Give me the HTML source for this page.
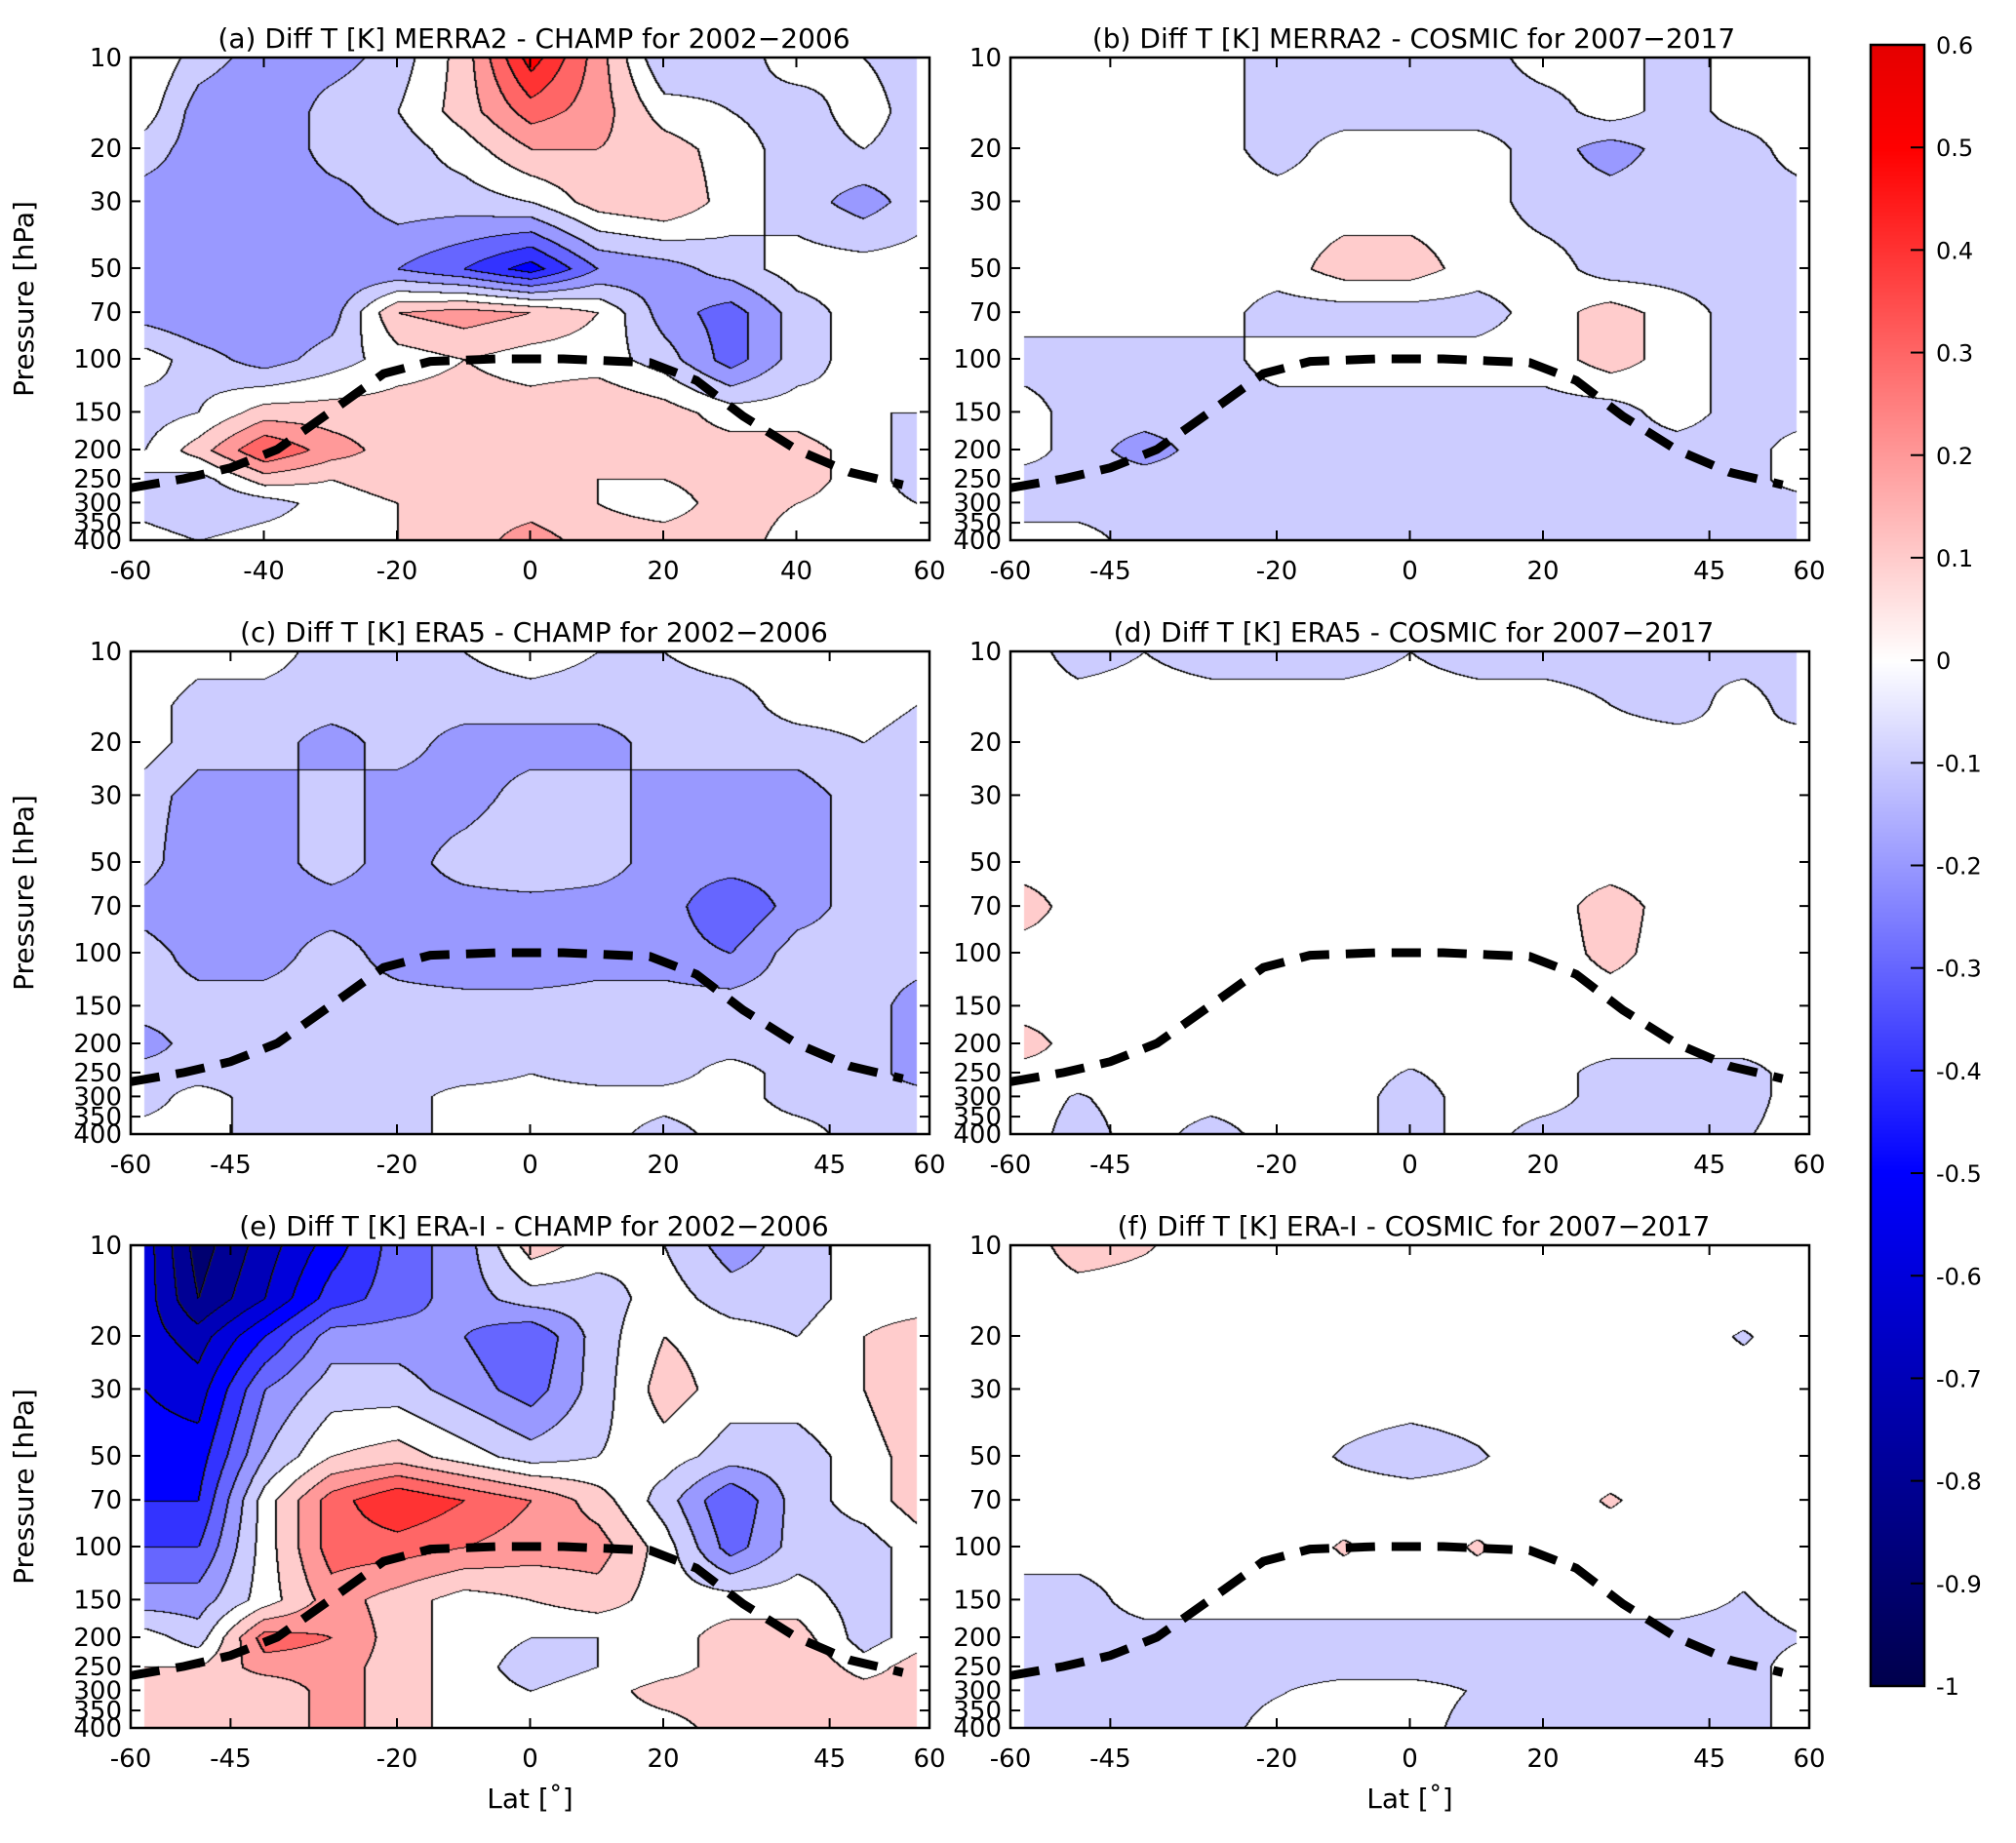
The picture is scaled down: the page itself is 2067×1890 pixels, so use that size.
<!DOCTYPE html>
<html><head><meta charset="utf-8">
<style>
html,body{margin:0;padding:0;background:#fff;}
#wrap{position:relative;width:2067px;height:1890px;overflow:hidden;font-family:"DejaVu Sans","Liberation Sans",sans-serif;}
canvas{position:absolute;}
svg{position:absolute;left:0;top:0;}
</style></head>
<body>
<div id="wrap">
<canvas id="cv0"></canvas>
<canvas id="cv1"></canvas>
<canvas id="cv2"></canvas>
<canvas id="cv3"></canvas>
<canvas id="cv4"></canvas>
<canvas id="cv5"></canvas>
<canvas id="cbar"></canvas>
<svg id="ov" width="2067" height="1890" xmlns="http://www.w3.org/2000/svg"></svg>
</div>
<script>
// ---- data ----
const lats = [-58,-50,-40,-30,-20,-10,0,10,20,30,40,50,58];
const pressures = [10,15,20,30,50,70,100,150,200,250,300,400];
const yTicks = [10,20,30,50,70,100,150,200,250,300,350,400];
const xTicksA = [-60,-40,-20,0,20,40,60];
const xTicksB = [-60,-45,-20,0,20,45,60];
const cbTicks = [0.6,0.5,0.4,0.3,0.2,0.1,0,-0.1,-0.2,-0.3,-0.4,-0.5,-0.6,-0.7,-0.8,-0.9,-1];
const tropLat = [-60,-52,-45,-38,-30,-22,-15,-5,5,18,25,32,40,48,56];
const tropP =   [268,250,230,200,150,112,102,100,100,103,118,155,200,238,262];
const titles = ["(a) Diff T [K] MERRA2 - CHAMP for 2002\u22122006","(b) Diff T [K] MERRA2 - COSMIC for 2007\u22122017",
"(c) Diff T [K] ERA5 - CHAMP for 2002\u22122006","(d) Diff T [K] ERA5 - COSMIC for 2007\u22122017",
"(e) Diff T [K] ERA-I - CHAMP for 2002\u22122006","(f) Diff T [K] ERA-I - COSMIC for 2007\u22122017"];
const fieldA = [
[0.05,-0.1,-0.2,-0.2,-0.1,0.1,0.5,0.2,-0.15,-0.1,0,-0.05,-0.1],
[0,-0.2,-0.25,-0.1,-0.05,0.1,0.3,0.2,0,-0.05,-0.1,0,-0.1],
[-0.1,-0.2,-0.25,-0.1,-0.1,0,0.15,0.15,0.1,0,-0.1,-0.05,-0.1],
[-0.2,-0.2,-0.2,-0.2,-0.1,-0.1,-0.05,0.1,0.15,0,-0.1,-0.2,-0.1],
[-0.2,-0.25,-0.25,-0.25,-0.25,-0.35,-0.5,-0.25,-0.2,-0.1,0,0,0],
[-0.2,-0.25,-0.25,-0.2,0.15,0.2,0.15,0.05,-0.2,-0.3,-0.1,0,0],
[0,-0.1,-0.2,-0.1,0,0.05,0,0,-0.1,-0.3,-0.1,0,-0.05],
[-0.1,-0.05,0.1,0.1,0.1,0.1,0.1,0.15,0.1,0,0,-0.05,-0.05],
[-0.05,0.1,0.35,0.2,0.1,0.1,0.1,0.1,0.1,0.1,0.1,0,-0.1],
[-0.05,-0.1,0.1,0.05,0.1,0.1,0.1,0.05,0.05,0.1,0.1,0,-0.1],
[-0.1,-0.15,-0.1,0,0.05,0.1,0.1,0.05,0,0.1,0.05,0,-0.05],
[0,-0.05,0,0,0.05,0.1,0.2,0.1,0.1,0.1,0,0,0]];
const fieldB = [
[0,0,0,0,-0.1,-0.1,-0.1,-0.1,0,0,-0.1,0,0],
[0,0,0,0,-0.1,-0.1,-0.1,-0.1,-0.1,0,-0.1,0,0],
[0,0,0,0,-0.1,0,0,0,-0.1,-0.2,-0.1,-0.1,0],
[0,0,0,0,0,0,0,0,-0.1,-0.1,-0.1,-0.1,-0.1],
[0,0,0,0,0,0.1,0.1,0,0,-0.1,-0.1,-0.1,-0.1],
[0,0,0,0,-0.1,-0.1,-0.1,-0.1,0,0.1,0,-0.1,-0.1],
[-0.1,-0.1,-0.1,-0.1,0,0,0,0,0,0.1,0,-0.1,-0.1],
[0,-0.1,-0.1,-0.1,-0.1,-0.1,-0.1,-0.1,-0.1,-0.1,0,-0.1,-0.1],
[0,-0.1,-0.2,-0.1,-0.1,-0.1,-0.1,-0.1,-0.1,-0.1,-0.1,-0.1,0],
[-0.1,-0.1,-0.1,-0.1,-0.1,-0.1,-0.1,-0.1,-0.1,-0.1,-0.1,-0.1,0],
[-0.1,-0.1,-0.1,-0.1,-0.1,-0.1,-0.1,-0.1,-0.1,-0.1,-0.1,-0.1,-0.1],
[0,0,-0.1,-0.1,-0.1,-0.1,-0.1,-0.1,-0.1,-0.1,-0.1,-0.1,-0.1]];
const fieldC = [
[0.05,0,0,-0.1,-0.1,-0.05,0,-0.05,-0.05,0,0,0.05,0],
[0,-0.1,-0.1,-0.1,-0.1,-0.1,-0.1,-0.1,-0.1,-0.1,0,0,-0.05],
[0,-0.1,-0.1,-0.2,-0.1,-0.2,-0.2,-0.2,-0.1,-0.1,-0.1,-0.05,-0.1],
[-0.1,-0.2,-0.2,-0.1,-0.2,-0.2,-0.1,-0.1,-0.2,-0.2,-0.2,-0.1,-0.1],
[-0.1,-0.25,-0.2,-0.1,-0.2,-0.1,-0.05,-0.1,-0.2,-0.2,-0.2,-0.1,-0.1],
[-0.2,-0.25,-0.2,-0.2,-0.2,-0.2,-0.2,-0.2,-0.2,-0.35,-0.2,-0.1,-0.1],
[-0.1,-0.2,-0.2,-0.1,-0.2,-0.25,-0.25,-0.2,-0.2,-0.25,-0.1,-0.1,-0.1],
[-0.1,-0.1,-0.1,-0.1,-0.1,-0.1,-0.1,-0.1,-0.1,-0.1,-0.1,-0.1,-0.2],
[-0.2,-0.1,-0.1,-0.1,-0.1,-0.1,-0.1,-0.1,-0.1,-0.1,-0.1,-0.1,-0.2],
[-0.1,-0.1,-0.1,-0.1,-0.1,-0.1,-0.05,-0.1,-0.1,0,-0.1,-0.1,-0.2],
[-0.1,0,-0.1,-0.05,-0.1,0,0,0,0,0,-0.1,-0.1,-0.1],
[0,0,-0.1,-0.1,-0.1,0,0,0,-0.1,0,0,-0.1,-0.1]];
const fieldD = [
[0,-0.1,-0.05,-0.1,-0.1,-0.1,-0.05,-0.1,-0.1,-0.1,-0.05,-0.1,-0.1],
[0,0,0,0,0,0,0,0,0,-0.05,-0.1,0,-0.1],
[0,0,0,0,0,0,0,0,0,0,0,-0.05,0],
[0,0,0,0,0,0,0,0,0,0,0,0,0],
[0,0,0,0,0,0,0,0,0,0,0,0,0],
[0.1,0,0,0,0,0,0,0,0,0.1,0,0,0],
[0,0,0,0,0,0,0,0,0,0.08,0,0,0],
[0,0,0,0,0,0,0,0,0,0,0,0,0],
[0.1,0,0,0,0,0,0,0,0,0,0,0,0],
[0,0,0,0,0,0,-0.06,0,0,-0.1,-0.1,-0.1,0],
[0,-0.06,0,0,0,0,-0.1,0,0,-0.1,-0.1,-0.1,0],
[0,-0.1,0,-0.1,0,0,-0.1,0,-0.1,-0.1,-0.1,-0.06,0]];
const fieldE = [
[-0.6,-0.9,-0.7,-0.5,-0.3,-0.2,0.1,0,-0.05,-0.2,-0.1,0,0],
[-0.6,-0.85,-0.65,-0.4,-0.3,-0.2,-0.1,-0.1,0,-0.1,-0.1,0,0],
[-0.6,-0.7,-0.45,-0.2,-0.2,-0.25,-0.35,-0.1,0.05,0,-0.05,0.05,0.1],
[-0.55,-0.6,-0.25,-0.1,-0.1,-0.2,-0.3,-0.1,0.1,0,0,0.05,0.15],
[-0.5,-0.5,-0.15,0.05,0.1,0,-0.1,-0.05,0,-0.1,-0.1,0,0.1],
[-0.45,-0.45,0,0.3,0.45,0.35,0.25,0.1,-0.1,-0.35,-0.1,0,0.1],
[-0.35,-0.35,0,0.3,0.3,0.25,0.2,0.2,0,-0.3,-0.1,-0.1,0],
[-0.2,-0.2,0,0.2,0.1,0,0.05,0.1,0,0,0,-0.1,0],
[0,-0.1,0.3,0.25,0.1,0,-0.05,-0.05,0,0.1,0.1,-0.1,0],
[0.05,0.05,0.2,0.2,0.1,0,-0.1,-0.05,0,0.1,0.15,0,0.1],
[0.1,0.1,0.05,0.2,0.1,0,-0.05,0,0.1,0.1,0.15,0.1,0.1],
[0.1,0.1,0.05,0.2,0.1,0,-0.05,0,0,0.1,0.15,0.1,0.1]];
const fieldF = [
[0,0.1,0.06,0,0,0,0,0,0,0,0,0,0],
[0,0,0,0,0,0,0,0,0,0,0,0,0],
[0,0,0,0,0,0,0,0,0,0,0,-0.06,0],
[0,0,0,0,0,0,0,0,0,0,0,0,0],
[0,0,0,0,0,-0.06,-0.1,-0.06,0,0,0,0,0],
[0,0,0,0,0,0,0,0,0,0.06,0,0,0],
[0,0,0,0,0,0.06,0,0.06,0,0,0,0,0],
[-0.1,-0.1,0,0,0,0,0,0,0,0,0,-0.06,0],
[-0.1,-0.1,-0.1,-0.1,-0.1,-0.1,-0.1,-0.1,-0.1,-0.1,-0.1,-0.1,-0.06],
[-0.1,-0.1,-0.1,-0.1,-0.1,-0.1,-0.1,-0.1,-0.1,-0.1,-0.1,-0.1,0],
[-0.1,-0.1,-0.06,-0.1,-0.06,0,0,-0.06,-0.1,-0.1,-0.1,-0.1,0],
[-0.1,-0.1,-0.1,-0.1,0,0,0,-0.1,-0.1,-0.1,-0.1,-0.1,0]];
const fields = [fieldA,fieldB,fieldC,fieldD,fieldE,fieldF];

// ---- layout ----
const colX = [134,1036], W = 819, H = 495, rowY = [59,668,1277];
const panels = [];
for (let r=0;r<3;r++) for (let c=0;c<2;c++) panels.push({x:colX[c],y:rowY[r]});
const NS="http://www.w3.org/2000/svg";
const ov=document.getElementById('ov');
function mk(tag,attrs,parent){const e=document.createElementNS(NS,tag);for(const k in attrs)e.setAttribute(k,attrs[k]);(parent||ov).appendChild(e);return e;}
const lp0=Math.log(10), lp1=Math.log(400);
function xS(lat){return (lat+60)/120*W;}
function yS(p){return (Math.log(p)-lp0)/(lp1-lp0)*H;}
function seismic(v){
  let t=(v+1)/2; t=Math.max(0,Math.min(1,t));
  const st=[[0,0,0,0.3],[0.25,0,0,1],[0.5,1,1,1],[0.75,1,0,0],[1,0.5,0,0]];
  for(let i=0;i<4;i++){const a=st[i],b=st[i+1];if(t<=b[0]){const f=(t-a[0])/(b[0]-a[0]);
    return [255*(a[1]+f*(b[1]-a[1])),255*(a[2]+f*(b[2]-a[2])),255*(a[3]+f*(b[3]-a[3]))];}}
  return [128,0,0];
}
const latPx = lats.map(xS), presPx = pressures.map(yS);
function interp(F,px,py){
  let i=0; while(i<latPx.length-2 && px>latPx[i+1]) i++;
  let j=0; while(j<presPx.length-2 && py>presPx[j+1]) j++;
  const fx=Math.max(0,Math.min(1,(px-latPx[i])/(latPx[i+1]-latPx[i])));
  const fy=Math.max(0,Math.min(1,(py-presPx[j])/(presPx[j+1]-presPx[j])));
  const a=F[j][i],b=F[j][i+1],c=F[j+1][i],d=F[j+1][i+1];
  return (a*(1-fx)+b*fx)*(1-fy)+(c*(1-fx)+d*fx)*fy;
}
panels.forEach((P,k)=>{
  const cv=document.getElementById('cv'+k);
  cv.width=W;cv.height=H;cv.style.left=P.x+'px';cv.style.top=P.y+'px';
  const ctx=cv.getContext('2d');const img=ctx.createImageData(W,H);
  const band=new Int16Array(W*H);
  const x0=latPx[0], x1=latPx[latPx.length-1];
  for(let y=0;y<H;y++)for(let x=0;x<W;x++){
    let b=-999;
    if(x>=x0&&x<=x1){b=Math.floor(interp(fields[k],x,y)*10+0.5+1e-6);}
    band[y*W+x]=b;
  }
  for(let y=0;y<H;y++)for(let x=0;x<W;x++){
    const i=y*W+x,b=band[i];
    let col=b===-999?[255,255,255]:seismic(b/10);
    if(b!==-999){
      const l=x>0?band[i-1]:b,u=y>0?band[i-W]:b;
      if((l!==b&&l!==-999)||(u!==b&&u!==-999))col=[0,0,0];
      else if(x>1&&band[i-1]!==band[i-2]&&band[i-2]!==-999&&band[i-1]!==-999)col=[40,40,40];
    }
    img.data[i*4]=col[0];img.data[i*4+1]=col[1];img.data[i*4+2]=col[2];img.data[i*4+3]=255;
  }
  ctx.putImageData(img,0,0);

  const g=mk('g',{transform:`translate(${P.x},${P.y})`});
  
  
  const pts=tropLat.map((la,i)=>`${xS(la).toFixed(1)},${yS(tropP[i]).toFixed(1)}`).join(' ');
  const tl=mk('polyline',{points:pts,fill:'none',stroke:'#000','stroke-width':9,'stroke-dasharray':'30,17'},g);
  
  
  const fr=mk('rect',{x:0,y:0,width:W,height:H,fill:'none',stroke:'#000','stroke-width':2.5},g);
  
  
  yTicks.forEach(p=>{const y=yS(p);
    mk('line',{x1:0,x2:10,y1:y,y2:y,stroke:'#000','stroke-width':2},g);
    mk('line',{x1:W-10,x2:W,y1:y,y2:y,stroke:'#000','stroke-width':2},g);
    const t=mk('text',{x:-9,y:y+9,'text-anchor':'end','font-size':26},g);t.textContent=p;
    
    
  });
  const xt=k===0?xTicksA:xTicksB;
  xt.forEach(la=>{const x=xS(la);
    mk('line',{x1:x,x2:x,y1:H-10,y2:H,stroke:'#000','stroke-width':2},g);
    mk('line',{x1:x,x2:x,y1:0,y2:10,stroke:'#000','stroke-width':2},g);
    const t=mk('text',{x:x,y:H+40,'text-anchor':'middle','font-size':26},g);t.textContent=la;
    
    
  });
  const tt=mk('text',{x:W/2+4,y:-10,'text-anchor':'middle','font-size':28},g);tt.textContent=titles[k];
  
  
  if(k%2===0){const yl=mk('text',{x:0,y:0,transform:`translate(-100,${H/2}) rotate(-90)`,'text-anchor':'middle','font-size':28},g);yl.textContent='Pressure [hPa]';
    
    }
  if(k>=4){const xl=mk('text',{x:W/2,y:H+82,'text-anchor':'middle','font-size':28},g);xl.textContent='Lat [\u02da]';
    
    }
});
// colorbar
const cbX=1918,cbY=46,cbW=55,cbH=1683;
const cb=document.getElementById('cbar');cb.width=cbW;cb.height=cbH;cb.style.left=cbX+'px';cb.style.top=cbY+'px';
const cctx=cb.getContext('2d');
for(let y=0;y<cbH;y++){const v=0.6-1.6*y/cbH;const c=seismic(v);cctx.fillStyle=`rgb(${c[0]|0},${c[1]|0},${c[2]|0})`;cctx.fillRect(0,y,cbW,1);}
const cfr=mk('rect',{x:cbX,y:cbY,width:cbW,height:cbH,fill:'none',stroke:'#000','stroke-width':2.5});


cbTicks.forEach(v=>{const y=cbY+(0.6-v)/1.6*cbH;
  mk('line',{x1:cbX+cbW-14,x2:cbX+cbW,y1:y,y2:y,stroke:'#000','stroke-width':2});
  const t=mk('text',{x:cbX+cbW+12,y:y+9,'font-size':24});t.textContent=v===0?'0':String(v);
  
  
});
</script>
</body></html>
